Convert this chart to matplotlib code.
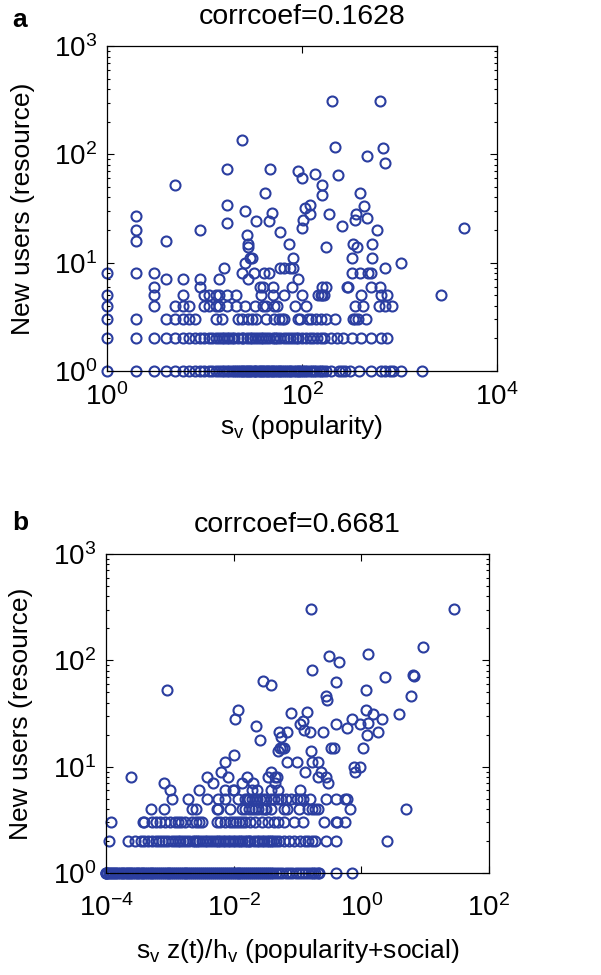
import numpy as np
import matplotlib
matplotlib.use("Agg")
import matplotlib.pyplot as plt
from matplotlib.ticker import LogLocator, FuncFormatter, NullFormatter

plt.rcParams['font.family'] = ['Liberation Sans', 'DejaVu Sans']
plt.rcParams['mathtext.fontset'] = 'custom'
plt.rcParams['mathtext.rm'] = 'Liberation Sans'
plt.rcParams['mathtext.it'] = 'Liberation Sans'
plt.rcParams['mathtext.default'] = 'regular'

BLUE = '#2b3ea0'
FS = 19

# ---- panel a: new users vs popularity s_v ----
# x values grouped by the (integer) number of new users
a_y1 = [1, 2, 3, 4, 5, 6, 7, 8, 9, 10, 11, 12, 13, 14, 15, 16, 17, 18, 19, 20, 21, 22, 23, 24, 25,
        26, 27, 28, 29, 30, 32, 33, 34, 36, 37, 39, 40, 42, 44, 45, 47, 49, 51, 53, 55, 58, 60, 63,
        66, 69, 72, 75, 78, 82, 86, 90, 94, 98, 103, 108, 113, 120, 126, 133, 140, 148, 156, 165,
        175, 196, 237, 256, 277, 310, 381, 508, 640, 717, 791, 867, 1024, 1694]
a_y2 = [1, 2, 3, 4, 5, 6, 7, 8, 9, 10, 11, 12, 13, 14, 15, 16, 17, 18, 19, 20, 22, 24, 25, 27, 29,
        31, 33, 35, 38, 40, 43, 46, 50, 53, 56, 60, 65, 70, 75, 80, 86, 92, 100, 110, 120, 130, 142,
        155, 170, 196, 230, 265, 322, 405, 508, 640, 745]
a_y3 = [1, 2, 4, 5, 6, 7, 8, 13, 15, 22, 24, 28, 31, 34, 43, 52, 58, 63, 65, 92, 95, 115, 124,
        139, 156, 175, 217, 334, 347, 375, 454]
a_y4 = [1, 3, 5, 6, 7, 10, 11, 13, 14, 17, 21, 26, 33, 40, 43, 52, 56, 85, 109, 347, 421, 615,
        717, 834]
a_y5 = [1, 3, 6, 10, 11, 13, 14, 17, 21, 38, 50, 65, 99, 145, 156, 162, 169, 405, 640, 745, 2640]
a_y6 = [3, 9, 37, 40, 51, 79, 162, 175, 287, 298, 508, 630]
a_y7 = [4, 6, 9, 14, 28, 92]
a_y8 = [1, 2, 3, 24, 32, 41, 46, 322, 398, 471, 516]
a_other_x = [16, 60, 66, 75, 80, 706, 26, 1025, 29, 31, 80, 322, 528,
             2, 2, 2, 4, 5, 9, 17, 17, 26, 27, 28, 28, 34, 42, 46, 49, 60, 73, 101, 103, 107, 122,
             122, 162, 162, 178, 189, 256, 334, 347, 361, 369, 398, 430, 464, 517, 592, 4562,
             17, 24, 47, 90, 100, 135, 204, 220, 234, 460, 625, 674, 706]
a_other_y = [9, 9, 9, 9, 9, 9, 10, 10, 11, 11, 11, 11, 11,
             27, 20, 16, 16, 52, 20, 23, 34, 30, 18, 15, 14, 24, 44, 24, 29, 19, 15, 21, 25, 32, 34,
             28, 52, 42, 14, 28, 22, 15, 25, 28, 14, 44, 33, 26, 15, 20, 21,
             74, 135, 74, 70, 60, 66, 312, 116, 64, 97, 308, 114, 84]

# ---- panel b: new users vs s_v z(t)/h_v ----
b_y1 = [1.0e-4, 1.0e-4, 1.0e-4, 1.05e-4, 1.1e-4, 1.16e-4, 1.22e-4, 1.3e-4, 1.38e-4, 1.45e-4,
        1.55e-4, 1.65e-4, 1.75e-4, 1.85e-4, 1.95e-4, 2.1e-4, 2.2e-4, 2.35e-4, 2.5e-4, 2.65e-4,
        2.8e-4, 3.0e-4, 3.2e-4, 3.4e-4, 3.6e-4, 3.8e-4, 4.1e-4, 4.4e-4, 4.7e-4, 5.0e-4, 5.3e-4,
        5.7e-4, 6.1e-4, 6.5e-4, 7.0e-4, 7.5e-4, 8.0e-4, 8.6e-4, 9.2e-4, 9.8e-4, 1.05e-3, 1.12e-3,
        1.2e-3, 1.3e-3, 1.4e-3, 1.5e-3, 1.6e-3, 1.7e-3, 1.8e-3, 1.95e-3, 2.1e-3, 2.25e-3, 2.4e-3,
        2.6e-3, 2.8e-3, 3.0e-3, 3.2e-3, 3.4e-3, 3.7e-3, 4.0e-3, 4.3e-3, 4.6e-3, 4.9e-3, 5.3e-3,
        5.7e-3, 6.1e-3, 6.5e-3, 7.0e-3, 7.5e-3, 8.0e-3, 8.6e-3, 9.3e-3, 1.0e-2, 1.07e-2, 1.15e-2,
        1.23e-2, 1.32e-2, 1.42e-2, 1.52e-2, 1.63e-2, 1.75e-2, 1.88e-2, 2.0e-2, 2.15e-2, 2.3e-2,
        2.5e-2, 2.7e-2, 2.9e-2, 3.1e-2, 3.35e-2, 3.6e-2, 3.9e-2, 4.2e-2, 4.6e-2, 5.2e-2, 5.8e-2,
        6.5e-2, 7.4e-2, 8.3e-2, 9.5e-2, 0.105, 0.118, 0.13, 0.145, 0.16, 0.175, 0.19, 0.21, 0.22,
        0.395, 0.71]
b_y2 = [1.13e-4, 2.2e-4, 2.8e-4, 3.5e-4, 4.0e-4, 4.5e-4, 5.3e-4, 6.0e-4, 6.7e-4, 7.5e-4, 8.5e-4,
        9.5e-4, 1.07e-3, 1.2e-3, 1.35e-3, 1.45e-3, 1.6e-3, 1.8e-3, 2.0e-3, 2.3e-3, 2.5e-3, 2.7e-3,
        2.9e-3, 3.2e-3, 3.5e-3, 3.8e-3, 4.3e-3, 4.8e-3, 5.2e-3, 5.7e-3, 6.2e-3, 6.8e-3, 7.4e-3,
        8.1e-3, 8.9e-3, 9.7e-3, 1.05e-2, 1.15e-2, 1.25e-2, 1.37e-2, 1.5e-2, 1.63e-2, 1.73e-2,
        1.83e-2, 2.05e-2, 2.3e-2, 2.5e-2, 2.74e-2, 3.0e-2, 3.27e-2, 3.55e-2, 3.88e-2, 4.2e-2,
        4.6e-2, 5.2e-2, 6.2e-2, 7.3e-2, 8.7e-2, 0.11, 0.13, 0.148, 0.166, 0.186, 0.28, 0.395, 2.5]
b_y3 = [1.2e-4, 3.75e-4, 4.0e-4, 5.3e-4, 6.0e-4, 7.1e-4, 8.5e-4, 1.0e-3, 1.2e-3, 1.34e-3, 1.5e-3,
        1.7e-3, 2.26e-3, 2.55e-3, 2.86e-3, 3.2e-3, 5.4e-3, 6.05e-3, 7.2e-3, 8.6e-3, 9.65e-3,
        1.08e-2, 1.22e-2, 1.37e-2, 1.53e-2, 1.83e-2, 2.17e-2, 2.74e-2, 3.46e-2, 4.36e-2, 4.9e-2,
        6.2e-2, 8.7e-2, 0.124, 0.264, 0.395, 0.42, 0.56]
b_y4 = [5.0e-4, 8.0e-4, 2.26e-3, 2.55e-3, 5.4e-3, 5.7e-3, 8.6e-3, 1.37e-2, 1.53e-2, 1.72e-2,
        1.94e-2, 2.17e-2, 2.44e-2, 2.74e-2, 3.07e-2, 3.26e-2, 3.87e-2, 6.2e-2, 6.9e-2, 0.104,
        0.148, 0.166, 0.186, 0.209, 0.667, 5.07]
b_y5 = [1.07e-3, 1.9e-3, 3.8e-3, 5.7e-3, 7.2e-3, 1.15e-2, 1.53e-2, 1.62e-2, 1.72e-2, 1.94e-2,
        2.17e-2, 2.3e-2, 2.6e-2, 2.9e-2, 3.26e-2, 3.87e-2, 4.36e-2, 4.9e-2, 5.5e-2, 6.55e-2,
        7.8e-2, 9.8e-2, 0.11, 0.124, 0.156, 0.28, 0.395, 0.56, 0.6]
b_y6 = [1.0e-3, 2.9e-3, 7.2e-3, 9.65e-3, 1.02e-2, 1.94e-2, 2.3e-2, 3.9e-2, 4.9e-2, 0.11]
b_y7 = [8.0e-4, 4.8e-3, 1.37e-2, 2.0e-2, 4.4e-2, 0.30]
b_y8 = [2.5e-4, 3.8e-3, 8.1e-3, 1.6e-2, 3.5e-2, 4.4e-2, 4.8e-2, 0.209, 0.28]
b_other_x = [6.4e-3, 7.2e-3, 1.02e-2, 2.2e-2, 2.6e-2, 3.9e-2, 5.2e-2, 5.5e-2, 4.9e-2, 5.4e-2,
             5.8e-2, 6.1e-2, 6.8e-2, 6.8e-2, 7.8e-2, 9.8e-2, 0.108, 0.124, 0.14, 0.126, 0.131,
             0.156, 0.16, 0.166, 0.209, 0.234, 0.25, 0.33, 0.37, 0.395, 0.6, 0.71, 0.78, 0.8, 0.94,
             0.94, 1.06, 1.2, 1.24, 1.26, 1.5, 1.8, 2.1, 3.9, 1.05e-2, 1.15e-2,
             8.9e-4, 2.9e-2, 3.9e-2, 0.16, 0.171, 0.313, 0.444, 0.395, 0.279, 0.29, 1.26, 1.2,
             2.39, 6.0, 6.4, 6.7, 9.3, 27.9]
b_other_y = [9, 11, 13, 24, 18, 9, 21, 19, 14, 15,
             15, 15, 11, 21, 32, 11, 25, 27, 33, 22, 9,
             21, 14, 11, 11, 9, 21, 15, 15, 25, 23, 28, 10, 9, 10,
             25, 15, 34, 20, 26, 31, 21, 28, 31, 28, 34,
             53, 64, 58, 302, 82, 111, 96, 63, 46, 42, 114, 53,
             69, 46, 73, 72, 134, 306]


def collect(rows, other_x, other_y):
    xs, ys = [], []
    for yv, row in rows:
        xs += row
        ys += [yv] * len(row)
    return np.array(xs + other_x, float), np.array(ys + other_y, float)


ax_a, ay_a = collect([(1, a_y1), (2, a_y2), (3, a_y3), (4, a_y4), (5, a_y5), (6, a_y6),
                      (7, a_y7), (8, a_y8)], a_other_x, a_other_y)
bx_b, by_b = collect([(1, b_y1), (2, b_y2), (3, b_y3), (4, b_y4), (5, b_y5), (6, b_y6),
                      (7, b_y7), (8, b_y8)], b_other_x, b_other_y)


def pow10(v, pos):
    return r'$\mathregular{10^{%d}}$' % int(round(np.log10(v)))


def style(ax, xlim, xticks, xpad):
    ax.set_xscale('log')
    ax.set_yscale('log')
    ax.set_xlim(*xlim)
    ax.set_ylim(1, 1000)
    ax.set_xticks(xticks)
    ax.xaxis.set_major_formatter(FuncFormatter(pow10))
    ax.xaxis.set_minor_locator(plt.NullLocator())
    ax.set_yticks([1, 10, 100, 1000])
    ax.yaxis.set_major_formatter(FuncFormatter(pow10))
    ax.yaxis.set_minor_locator(LogLocator(base=10, subs=np.arange(2, 10)))
    ax.yaxis.set_minor_formatter(NullFormatter())
    ax.tick_params(which='both', direction='in', top=True, right=True, labelsize=20, width=0.8)
    ax.tick_params(which='major', length=5)
    ax.tick_params(axis='y', which='major', pad=7)
    ax.tick_params(axis='x', which='major', pad=xpad)
    ax.tick_params(which='minor', length=2.5)
    for s in ax.spines.values():
        s.set_linewidth(0.9)


fig = plt.figure(figsize=(6.01, 9.75), dpi=100)

ax1 = fig.add_axes([0.178, 0.6195, 0.649, 0.3333])
ax1.plot(ax_a, ay_a, 'o', mfc='none', mec=BLUE, mew=1.5, ms=7.2, clip_on=False)
style(ax1, (1, 1e4), [1, 1e2, 1e4], 9)
ax1.set_xlabel(r'$\mathregular{s_v}$ (popularity)', fontsize=FS)
ax1.set_ylabel('New users (resource)', fontsize=FS)
ax1.xaxis.set_label_coords(0.5, -0.13)
ax1.yaxis.set_label_coords(-0.185, 0.5)
ax1.set_title('corrcoef=0.1628', fontsize=20.5, pad=16)

ax2 = fig.add_axes([0.1765, 0.1046, 0.637, 0.3272])
ax2.plot(bx_b, by_b, 'o', mfc='none', mec=BLUE, mew=1.5, ms=7.2, clip_on=False)
style(ax2, (1e-4, 1e2), [1e-4, 1e-2, 1, 1e2], 15)
ax2.set_xlabel(r'$\mathregular{s_v}$ z(t)/$\mathregular{h_v}$ (popularity+social)', fontsize=FS)
ax2.set_ylabel('New users (resource)', fontsize=FS)
ax2.xaxis.set_label_coords(0.5, -0.2)
ax2.yaxis.set_label_coords(-0.19, 0.5)
ax2.set_title('corrcoef=0.6681', fontsize=20.5, pad=16)

fig.text(0.02, 1 - 27 / 975, 'a', ha='left', va='baseline', fontsize=FS, fontweight='bold')
fig.text(0.02, 1 - 530 / 975, 'b', ha='left', va='baseline', fontsize=FS, fontweight='bold')

fig.savefig('out.png', dpi=100)
